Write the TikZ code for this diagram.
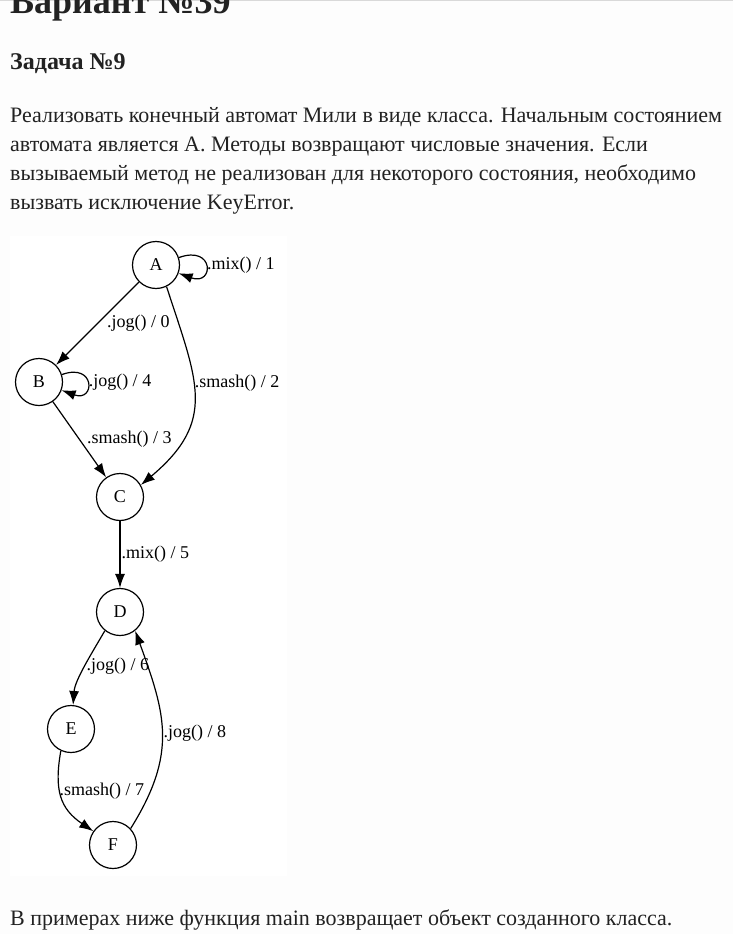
\documentclass[tikz,border=0pt]{standalone}
\usepackage{fontspec}
\setmainfont{Liberation Serif}
\usepackage{xcolor}
\usetikzlibrary{arrows.meta}

\definecolor{pagebg}{HTML}{FDFDFD}
\definecolor{textcol}{HTML}{222222}

\begin{document}
\begin{tikzpicture}[x=1pt, y=1pt,
    state/.style={shape=circle, draw=black, line width=1.2pt, minimum size=47pt, inner sep=0pt, font=\fontsize{18}{18}\selectfont},
    lbl/.style={right, inner sep=1pt, font=\fontsize{18}{18}\selectfont},
    trans/.style={line width=1.2pt, -{Latex[length=14pt, width=10pt]}},
    txtline/.style={anchor=base west, inner sep=0pt, text=textcol, font=\fontsize{22}{22}\selectfont}]
    \useasboundingbox (0,0) rectangle (733,-934);
    \clip (0,0) rectangle (733,-934);
    \fill[pagebg] (0,0) rectangle (733,-934);
    \fill[black!15] (0,0) rectangle (733,-1.5);
    \fill[white] (10,-236) rectangle (287,-876);

    % page text
    \node[txtline, font=\bfseries\fontsize{36}{36}\selectfont] (title) at (10,-14) {Вариант №39};
    \node[txtline, font=\bfseries\fontsize{24}{24}\selectfont] (task) at (10,-70) {Задача №9};
    \node[txtline] (l1) at (10,-122) {Реализовать конечный автомат Мили в виде класса. Начальным состоянием};
    \node[txtline] (l2) at (10,-151) {автомата является А. Методы возвращают числовые значения. Если};
    \node[txtline] (l3) at (10,-180) {вызываемый метод не реализован для некоторого состояния, необходимо};
    \node[txtline] (l4) at (10,-209) {вызвать исключение KeyError.};
    \node[txtline] (bottom) at (10,-925) {В примерах ниже функция main возвращает объект созданного класса.};

    % states
    \node[state] (A) at (156,-265) {A};
    \node[state] (B) at (39,-382) {B};
    \node[state] (C) at (120,-497) {C};
    \node[state] (D) at (120,-612) {D};
    \node[state] (E) at (71,-729) {E};
    \node[state] (F) at (113,-845) {F};

    % transitions
    \path [trans] (A.18) edge [out=20, in=-20, distance=38pt] node[lbl] {.mix() / 1} (A.-20);
    \path [trans] (A) edge node[lbl, xshift=8pt] {.jog() / 0} (B);
    \path [trans] (A.-64) edge [out=-72, in=40, distance=100pt] node[lbl, pos=0.42] {.smash() / 2} (C.30);
    \path [trans] (B.18) edge [out=20, in=-20, distance=36pt] node[lbl] {.jog() / 4} (B.-20);
    \path [trans] (B) edge node[lbl, xshift=6pt] {.smash() / 3} (C);
    \path [trans] (C) edge node[lbl] {.mix() / 5} (D);
    \path [trans] (D.-129) edge [out=-120, in=86, distance=25pt] node[lbl] {.jog() / 6} (E.85);
    \path [trans] (E.-115) edge [out=-100, in=146, distance=40pt] node[lbl, pos=0.42, xshift=-2pt] {.smash() / 7} (F.145);
    \path [trans] (F.43) edge [out=58, in=-70, distance=89pt] node[lbl] {.jog() / 8} (D.-51);
\end{tikzpicture}
\end{document}
